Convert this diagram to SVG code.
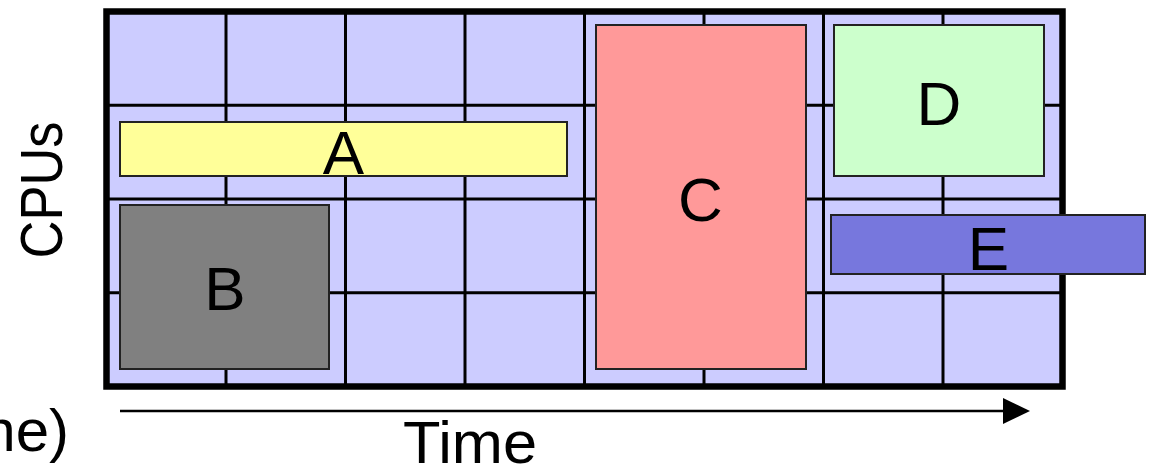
<svg xmlns="http://www.w3.org/2000/svg" width="1149" height="468" viewBox="0 0 1149 468">
  <style>
    .grid { stroke: #000; stroke-width: 3; }
    .job { stroke: #222; stroke-width: 2; }
    .lbl { font-family: "Liberation Sans", Arial, sans-serif; font-size: 62px; fill: #000; text-anchor: middle; }
    .axis { font-family: "Liberation Sans", Arial, sans-serif; font-size: 60px; fill: #000; }
  </style>
  <rect width="1149" height="468" fill="#fff"/>

  <!-- schedule area: CPUs x time slots -->
  <g id="board">
    <rect x="106.5" y="11.5" width="956" height="375" fill="#CCCCFF"/>
    <g class="grid">
      <line x1="226" y1="11.5" x2="226" y2="386.5"/>
      <line x1="345.5" y1="11.5" x2="345.5" y2="386.5"/>
      <line x1="465" y1="11.5" x2="465" y2="386.5"/>
      <line x1="584.5" y1="11.5" x2="584.5" y2="386.5"/>
      <line x1="704" y1="11.5" x2="704" y2="386.5"/>
      <line x1="823.5" y1="11.5" x2="823.5" y2="386.5"/>
      <line x1="943" y1="11.5" x2="943" y2="386.5"/>
      <line x1="106.5" y1="105.25" x2="1062.5" y2="105.25"/>
      <line x1="106.5" y1="199" x2="1062.5" y2="199"/>
      <line x1="106.5" y1="292.75" x2="1062.5" y2="292.75"/>
    </g>
    <rect x="106.5" y="11.5" width="956" height="375" fill="none" stroke="#000" stroke-width="6.5"/>
  </g>

  <g id="job-a">
    <rect class="job" x="120" y="122" width="447" height="54" fill="#FFFF99"/>
    <text class="lbl" x="343.5" y="174">A</text>
  </g>
  <g id="job-b">
    <rect class="job" x="120" y="205" width="209" height="164" fill="#808080"/>
    <text class="lbl" x="225" y="310">B</text>
  </g>
  <g id="job-c">
    <rect class="job" x="596" y="25" width="210" height="344" fill="#FF9999"/>
    <text class="lbl" x="700.5" y="221">C</text>
  </g>
  <g id="job-d">
    <rect class="job" x="834" y="25" width="210" height="151" fill="#CCFFCC"/>
    <text class="lbl" x="939" y="125">D</text>
  </g>
  <g id="job-e">
    <rect class="job" x="831" y="215" width="314" height="59" fill="#7777DD"/>
    <text class="lbl" x="988.5" y="270">E</text>
  </g>

  <!-- axes -->
  <g id="connectors">
    <line x1="120" y1="411" x2="1005" y2="411" stroke="#000" stroke-width="2.5"/>
    <polygon points="1003,398 1030,411 1003,424" fill="#000"/>
  </g>
  <g id="axis-labels">
    <text class="axis" x="470" y="463" text-anchor="middle" textLength="134" lengthAdjust="spacingAndGlyphs">Time</text>
    <text class="axis" transform="translate(62,190) rotate(-90)" text-anchor="middle" textLength="137" lengthAdjust="spacingAndGlyphs">CPUs</text>
    <text class="axis" x="69" y="451" text-anchor="end" font-size="56">me)</text>
  </g>
</svg>
